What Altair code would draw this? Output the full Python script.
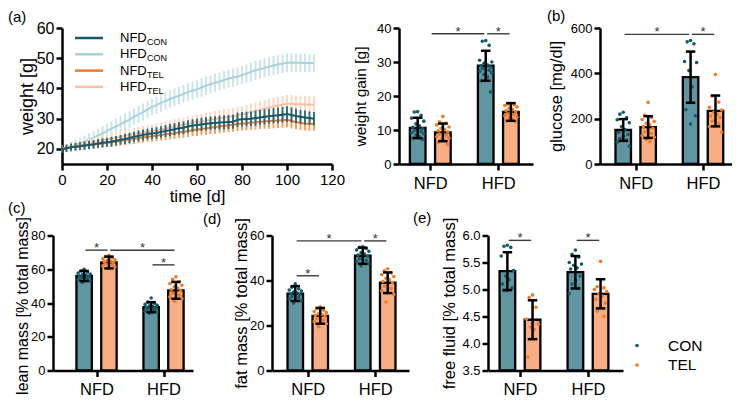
import altair as alt
import pandas as pd

FONT = "Liberation Sans"

DIETS = ["NFD", "HFD"]
GROUPS = ["CON", "TEL"]

# ---------------- (a) body weight over time ----------------
DAYS = list(range(0, 113, 2))
NFD_CON_MEAN = [19.8, 20.2, 20.5, 20.7, 20.9, 21.1, 21.3, 21.5, 21.8, 22.0,
                22.2, 22.4, 22.7, 23.0, 23.3, 23.6, 24.0, 24.3, 24.6, 24.9,
                25.1, 25.3, 25.6, 25.9, 26.2, 26.5, 26.8, 27.0, 27.4, 27.7,
                27.9, 28.1, 28.3, 28.5, 28.6, 28.7, 28.8, 28.9, 29.0, 29.6,
                29.8, 29.9, 30.0, 30.2, 30.4, 30.6, 30.8, 31.0, 31.1, 31.3,
                31.5, 31.2, 30.9, 30.6, 30.4, 30.2, 30.0]
NFD_CON_SD = [1.2, 1.2, 1.3, 1.3, 1.3, 1.4, 1.4, 1.4, 1.5, 1.5,
              1.5, 1.6, 1.6, 1.6, 1.7, 1.7, 1.7, 1.8, 1.8, 1.8,
              1.9, 1.9, 1.9, 2.0, 2.0, 2.0, 2.0, 2.1, 2.1, 2.1,
              2.1, 2.2, 2.2, 2.2, 2.2, 2.3, 2.3, 2.3, 2.3, 2.4,
              2.4, 2.4, 2.4, 2.5, 2.5, 2.5, 2.5, 2.5, 2.6, 2.6,
              2.6, 2.5, 2.4, 2.3, 2.3, 2.2, 2.2]
HFD_CON_MEAN = [20.0, 20.3, 20.8, 21.3, 21.9, 22.4, 23.1, 23.7, 24.4, 25.1,
                25.9, 26.7, 27.4, 28.2, 28.9, 29.7, 30.6, 31.4, 32.2, 33.1,
                33.9, 34.5, 35.2, 35.9, 36.5, 37.1, 37.6, 38.2, 38.8, 39.3,
                39.7, 40.3, 40.9, 41.4, 41.9, 42.3, 42.8, 43.3, 43.6, 43.9,
                44.4, 44.9, 45.5, 46.0, 46.4, 46.8, 47.2, 47.6, 47.9, 48.2,
                48.5, 48.6, 48.5, 48.5, 48.4, 48.4, 48.3]
HFD_CON_SD = [1.0, 1.3, 1.5, 1.7, 1.9, 2.0, 2.1, 2.2, 2.3, 2.4,
              2.5, 2.5, 2.6, 2.6, 2.7, 2.7, 2.7, 2.8, 2.8, 2.8,
              2.8, 2.8, 2.9, 2.9, 2.9, 2.9, 2.9, 2.9, 2.9, 2.9,
              2.9, 3.0, 3.0, 3.0, 3.0, 3.0, 3.0, 3.0, 3.0, 3.0,
              3.0, 3.0, 3.1, 3.1, 3.1, 3.1, 3.1, 3.1, 3.1, 3.1,
              3.1, 3.1, 3.0, 3.0, 3.0, 2.9, 2.9]
NFD_TEL_MEAN = [20.0, 20.3, 20.5, 20.7, 20.9, 21.1, 21.3, 21.4, 21.6, 21.8,
                22.0, 22.2, 22.4, 22.6, 22.9, 23.1, 23.3, 23.6, 23.8, 24.0,
                24.2, 24.4, 24.6, 24.8, 25.0, 25.2, 25.5, 25.7, 25.9, 26.2,
                26.4, 26.6, 26.8, 27.0, 27.2, 27.4, 27.6, 27.8, 28.0, 28.2,
                28.4, 28.5, 28.7, 28.8, 29.0, 29.1, 29.2, 29.3, 29.4, 29.5,
                29.6, 29.2, 28.9, 28.6, 28.4, 28.3, 28.2]
NFD_TEL_SD = [1.0, 1.1, 1.1, 1.2, 1.2, 1.3, 1.3, 1.3, 1.4, 1.4,
              1.4, 1.5, 1.5, 1.5, 1.6, 1.6, 1.6, 1.7, 1.7, 1.7,
              1.8, 1.8, 1.8, 1.9, 1.9, 1.9, 2.0, 2.0, 2.0, 2.0,
              2.1, 2.1, 2.1, 2.1, 2.2, 2.2, 2.2, 2.2, 2.3, 2.3,
              2.3, 2.3, 2.4, 2.4, 2.4, 2.4, 2.5, 2.5, 2.5, 2.5,
              2.5, 2.4, 2.4, 2.3, 2.3, 2.3, 2.2]
HFD_TEL_MEAN = [20.0, 20.3, 20.6, 20.9, 21.2, 21.5, 21.9, 22.2, 22.5, 22.8,
                23.1, 23.4, 23.7, 24.0, 24.3, 24.6, 24.9, 25.2, 25.4, 25.7,
                25.9, 26.2, 26.5, 26.8, 27.1, 27.4, 27.7, 28.0, 28.3, 28.6,
                28.9, 29.1, 29.4, 29.6, 29.9, 30.1, 30.4, 30.6, 30.8, 31.1,
                31.4, 31.8, 32.2, 32.5, 32.9, 33.3, 33.6, 34.0, 34.3, 34.6,
                34.9, 34.9, 34.8, 34.8, 34.7, 34.7, 34.6]
HFD_TEL_SD = [1.0, 1.2, 1.3, 1.4, 1.5, 1.6, 1.7, 1.7, 1.8, 1.8,
              1.9, 1.9, 2.0, 2.0, 2.0, 2.1, 2.1, 2.1, 2.2, 2.2,
              2.2, 2.3, 2.3, 2.3, 2.4, 2.4, 2.4, 2.4, 2.5, 2.5,
              2.5, 2.5, 2.6, 2.6, 2.6, 2.6, 2.7, 2.7, 2.7, 2.7,
              2.7, 2.8, 2.8, 2.8, 2.8, 2.8, 2.9, 2.9, 2.9, 2.9,
              2.9, 2.9, 2.9, 2.8, 2.8, 2.8, 2.8]

SERIES_DATA = {
    "NFD_CON": (NFD_CON_MEAN, NFD_CON_SD),
    "HFD_CON": (HFD_CON_MEAN, HFD_CON_SD),
    "NFD_TEL": (NFD_TEL_MEAN, NFD_TEL_SD),
    "HFD_TEL": (HFD_TEL_MEAN, HFD_TEL_SD),
}
DRAW_ORDER = ["HFD_CON", "HFD_TEL", "NFD_TEL", "NFD_CON"]
LEGEND_ORDER = ["NFD_CON", "HFD_CON", "NFD_TEL", "HFD_TEL"]
LINE_COL = {"NFD_CON": "#17596a", "HFD_CON": "#a8d3dc", "NFD_TEL": "#f27a2c", "HFD_TEL": "#f9c0a6"}
ERR_COL = {"NFD_CON": "#2f6d79", "HFD_CON": "#c9e4ea", "NFD_TEL": "#f79a58", "HFD_TEL": "#fcd6c4"}

# ---------------- bar panels (order: NFD-CON, NFD-TEL, HFD-CON, HFD-TEL) ----------------
GAIN_MEAN = [10.6, 9.3, 28.9, 15.3]
GAIN_SD = [3.0, 2.6, 4.4, 2.6]
GAIN_DOTS = [
    [15.4, 15.3, 14.3, 13.5, 12.6, 11.8, 11.2, 10.8, 10.4, 10.1, 9.8, 9.5, 9.2, 8.9, 8.5, 8.1, 7.6, 7.2],
    [14.0, 12.4, 12.0, 11.5, 10.9, 10.5, 10.2, 9.8, 9.5, 9.1, 8.8, 8.4, 8.0, 7.6, 7.3, 6.9, 6.4, 5.8],
    [36.3, 36.1, 34.9, 30.5, 30.0, 29.6, 29.2, 28.9, 28.6, 28.3, 28.0, 27.6, 27.2, 26.8, 26.3, 25.6, 24.4, 21.2],
    [17.8, 17.6, 17.4, 17.2, 16.8, 16.4, 16.0, 15.7, 15.4, 15.1, 14.8, 14.5, 14.2, 13.8, 13.5, 13.1, 12.7, 12.4],
]
GLU_MEAN = [150, 163, 383, 234]
GLU_SD = [48, 48, 113, 68]
GLU_DOTS = [
    [228, 220, 205, 195, 182, 165, 152, 140, 130, 122, 112, 104, 96, 78],
    [272, 215, 205, 196, 188, 180, 172, 165, 158, 150, 142, 135, 125, 118, 108, 98],
    [545, 539, 530, 452, 448, 412, 340, 240, 213, 176],
    [395, 300, 273, 250, 238, 228, 220, 212, 205, 198, 190, 180, 165, 140],
]
LEAN_MEAN = [56.0, 64.0, 37.5, 47.5]
LEAN_SD = [3.0, 3.5, 3.0, 5.0]
LEAN_DOTS = [
    [60.0, 59.0, 58.3, 57.8, 57.2, 56.8, 56.4, 56.0, 55.6, 55.2, 54.8, 54.3, 53.8, 53.0, 52.2],
    [68.3, 67.5, 66.8, 66.2, 65.7, 65.2, 64.8, 64.4, 64.0, 63.6, 63.1, 62.6, 62.0, 61.3, 60.5],
    [43.0, 40.5, 39.8, 39.2, 38.7, 38.3, 37.9, 37.5, 37.1, 36.7, 36.3, 35.8, 35.3, 34.7, 34.0],
    [55.5, 54.0, 52.6, 51.5, 50.5, 49.6, 48.8, 48.0, 47.2, 46.4, 45.6, 44.6, 43.6, 42.5, 41.0],
]
FAT_MEAN = [34.2, 24.3, 51.0, 39.0]
FAT_SD = [3.3, 3.5, 3.6, 4.6]
FAT_DOTS = [
    [38.5, 37.0, 36.3, 35.8, 35.3, 34.9, 34.5, 34.1, 33.7, 33.3, 32.9, 32.4, 31.8, 31.0, 30.0],
    [28.3, 27.5, 26.8, 26.2, 25.7, 25.2, 24.8, 24.4, 24.0, 23.5, 23.0, 22.4, 21.7, 20.8, 19.5],
    [55.0, 54.8, 54.2, 53.6, 53.0, 52.4, 51.8, 51.3, 50.8, 50.2, 49.6, 49.0, 48.3, 47.5, 46.6],
    [45.2, 44.3, 43.4, 42.6, 41.8, 41.0, 40.3, 39.6, 38.9, 38.2, 37.4, 36.5, 35.4, 33.8, 30.5],
]
FLUID_MEAN = [5.34, 4.44, 5.32, 4.92]
FLUID_SD = [0.35, 0.36, 0.30, 0.27]
FLUID_DOTS = [
    [5.82, 5.80, 5.78, 5.62, 5.35, 5.25, 5.18, 5.10, 5.03, 4.98, 4.98],
    [4.90, 4.85, 4.67, 4.45, 4.36, 4.30, 4.26, 3.75],
    [5.73, 5.65, 5.60, 5.50, 5.47, 5.45, 5.40, 5.38, 5.25, 5.16, 5.10, 5.02, 4.92],
    [5.52, 5.05, 5.03, 5.00, 4.96, 4.92, 4.88, 4.82, 4.75, 4.68, 4.60, 4.50],
]
# significance lines: (from, to, height)
GAIN_SIG = [("NFD", "HFD-CON", 38.3), ("HFD-CON", "HFD-TEL", 38.3)]
GLU_SIG = [("NFD-CON", "HFD-CON", 572), ("HFD-CON", "HFD-TEL", 572)]
LEAN_SIG = [("NFD-CON", "NFD-TEL", 71.3), ("NFD-TEL", "HFD-TEL", 71.3), ("HFD-CON", "HFD-TEL", 62.6)]
FAT_SIG = [("NFD-CON", "HFD-CON", 57.6), ("HFD-CON", "HFD-TEL", 57.6), ("NFD-CON", "NFD-TEL", 42.1)]
FLUID_SIG = [("NFD-CON", "NFD-TEL", 5.91), ("HFD-CON", "HFD-TEL", 5.91)]

BAR_FILL = {"CON": "#5f96a2", "TEL": "#f9ad83"}
DOT_COL = {"CON": "#135b6b", "TEL": "#f57a22"}

# layout helpers
POS = {"NFD": 0.0, "HFD": 1.0, "NFD-CON": -0.185, "NFD-TEL": 0.185, "HFD-CON": 0.815, "HFD-TEL": 1.185}
HALF = 0.115
CAP = 0.07
TRIM = 0.02
JIT = [0.0, -0.05, 0.05, -0.09, 0.09, -0.025, 0.025, -0.07, 0.07]

AX = dict(domainWidth=2.5, tickWidth=2.5, tickSize=6, domainColor="black", tickColor="black",
          labelColor="black", titleColor="black", titleFontWeight="normal", grid=False, labelFlush=False)


def text_layer(txt, x, y, size, font=FONT, align="left", baseline="middle", dy=0):
    return alt.Chart(pd.DataFrame({"t": [txt]})).mark_text(
        font=font, fontSize=size, align=align, baseline=baseline, color="black", dy=dy
    ).encode(x=alt.value(x), y=alt.value(y), text="t:N")


# ---------- panel (a) ----------
rows = []
for s in DRAW_ORDER:
    m, sd = SERIES_DATA[s]
    for d, mm, ss in zip(DAYS, m, sd):
        rows.append({"series": s, "day": d, "mean": mm, "lo": mm - ss, "hi": mm + ss})
dfa = pd.DataFrame(rows)

xa_scale = alt.Scale(domain=[0, 120], range=[9, 279], nice=False)
xa_axis = alt.Axis(values=[0, 20, 40, 60, 80, 100, 120], title="time [d]", labelFont=FONT, labelFontSize=15,
                   titleFont=FONT, titleFontSize=17, labelPadding=2, titleY=32, titleBaseline="middle", **AX)
ya_scale = alt.Scale(domain=[15, 60], nice=False, zero=False)
ya_axis = alt.Axis(values=[20, 30, 40, 50, 60], title="weight [g]", labelFont=FONT, labelFontSize=16,
                   titleFont=FONT, titleFontSize=18, offset=-9, labelPadding=2, titleX=-35,
                   titleBaseline="middle", **AX)

a_layers = []
for s in DRAW_ORDER:
    base = alt.Chart(dfa).transform_filter(alt.datum.series == s)
    a_layers.append(base.mark_rule(color=ERR_COL[s], strokeWidth=1.9).encode(
        x=alt.X("day:Q", scale=xa_scale, axis=xa_axis),
        y=alt.Y("lo:Q", scale=ya_scale, axis=ya_axis), y2="hi:Q"))
    a_layers.append(base.mark_line(color=LINE_COL[s], strokeWidth=2).encode(
        x=alt.X("day:Q", scale=xa_scale, axis=xa_axis),
        y=alt.Y("mean:Q", scale=ya_scale, axis=ya_axis)))

for i, s in enumerate(LEGEND_ORDER):
    yy = 10 + 16.3 * i
    main, sub = s.split("_")
    a_layers.append(alt.Chart(pd.DataFrame({"k": [s]})).mark_rule(color=LINE_COL[s], strokeWidth=2.5).encode(
        x=alt.value(22), x2=alt.value(50), y=alt.value(yy)))
    a_layers.append(text_layer(main, 67, yy, 13))
    a_layers.append(text_layer(sub, 94, yy + 4, 9))
a_layers.append(text_layer("(a)", -45, -18, 15, baseline="top"))
panel_a = alt.layer(*a_layers).properties(width=279, height=136)


# ---------- bar panels ----------
def bar_panel(mean, sd, dots, sig, ytitle, ydom, yvals, yfmt, width, height, xdom,
              title_x, title_size, label, lx, ly, title_y=None, legend=False):
    keys = [f"{d}-{g}" for d in DIETS for g in GROUPS]
    stats = pd.DataFrame({"key": keys, "group": [k.split("-")[1] for k in keys], "mean": mean, "sd": sd})
    stats["xc"] = [POS[k] for k in keys]
    stats["x1"] = stats["xc"] - HALF
    stats["x2"] = stats["xc"] + HALF
    stats["lo"] = stats["mean"] - stats["sd"]
    stats["hi"] = stats["mean"] + stats["sd"]
    stats["cl"] = stats["xc"] - CAP
    stats["cr"] = stats["xc"] + CAP
    drows = []
    for k, vals in zip(keys, dots):
        for i, v in enumerate(vals):
            drows.append({"group": k.split("-")[1], "v": v, "xj": POS[k] + JIT[i % len(JIT)]})
    dd = pd.DataFrame(drows)
    sg = pd.DataFrame([{"x1": POS[a] + TRIM, "x2": POS[b] - TRIM, "xm": (POS[a] + POS[b]) / 2, "y": h, "s": "*"}
                       for a, b, h in sig])

    xs = alt.Scale(domain=xdom, nice=False, zero=False)
    xax = alt.Axis(values=[0, 1], labelExpr="datum.value == 0 ? 'NFD' : 'HFD'", title=None,
                   labelFont=FONT, labelFontSize=16.5, labelPadding=5, **AX)
    ys = alt.Scale(domain=ydom, nice=False, zero=False)
    ykw = dict(values=yvals, format=yfmt, title=ytitle, titleFont=FONT, titleFontSize=title_size,
               titleX=title_x, titleBaseline="middle", labelFont=FONT, labelFontSize=13,
               labelPadding=2, **AX)
    if title_y is not None:
        ykw["titleY"] = title_y
    yax = alt.Axis(**ykw)

    def X(f):
        return alt.X(f, scale=xs, axis=xax)

    def Y(f):
        return alt.Y(f, scale=ys, axis=yax)

    gcol = alt.Color("group:N", scale=alt.Scale(domain=GROUPS, range=[DOT_COL[g] for g in GROUPS]), legend=None)
    gfill = alt.Fill("group:N", scale=alt.Scale(domain=GROUPS, range=[BAR_FILL[g] for g in GROUPS]), legend=None)

    layers = [
        alt.Chart(stats).mark_bar(stroke="black", strokeWidth=2.3).encode(
            x=X("x1:Q"), x2="x2:Q", y=Y("mean:Q"), y2=alt.datum(ydom[0]), fill=gfill),
        alt.Chart(dd).mark_circle(size=13, opacity=1).encode(x=X("xj:Q"), y=Y("v:Q"), color=gcol),
        alt.Chart(stats).mark_rule(color="black", strokeWidth=2.5).encode(x=X("xc:Q"), y=Y("lo:Q"), y2="hi:Q"),
        alt.Chart(stats).mark_rule(color="black", strokeWidth=2.5).encode(x=X("cl:Q"), x2="cr:Q", y=Y("hi:Q")),
        alt.Chart(stats).mark_rule(color="black", strokeWidth=2.5).encode(x=X("cl:Q"), x2="cr:Q", y=Y("lo:Q")),
        alt.Chart(sg).mark_rule(color="#3c3c3c", strokeWidth=1.4).encode(x=X("x1:Q"), x2="x2:Q", y=Y("y:Q")),
        alt.Chart(sg).mark_text(font=FONT, fontSize=13, color="#333333", baseline="alphabetic", dy=2).encode(
            x=X("xm:Q"), y=Y("y:Q"), text="s:N"),
        text_layer(label, lx, ly, 15),
    ]
    if legend:
        for i, g in enumerate(GROUPS):
            yy = 110 + 19.6 * i
            layers.append(alt.Chart(pd.DataFrame({"g": [g]})).mark_circle(size=13, opacity=1, color=DOT_COL[g]).encode(
                x=alt.value(149), y=alt.value(yy)))
            layers.append(text_layer(g, 180, yy, 15.5))
    return alt.layer(*layers).properties(width=width, height=height)


panel_gain = bar_panel(GAIN_MEAN, GAIN_SD, GAIN_DOTS, GAIN_SIG, "weight gain [g]", [0, 40], [0, 10, 20, 30, 40],
                       "d", 134, 136, [-0.46, 1.51], -38.5, 15.5, "", 0, 0)
panel_glu = bar_panel(GLU_MEAN, GLU_SD, GLU_DOTS, GLU_SIG, "glucose [mg/dl]", [0, 600], [0, 200, 400, 600],
                      "d", 132, 136, [-0.53, 1.43], -44, 16.5, "(b)", -53, -12.5)
panel_lean = bar_panel(LEAN_MEAN, LEAN_SD, LEAN_DOTS, LEAN_SIG, "lean mass [% total mass]", [0, 80],
                       [0, 20, 40, 60, 80], "d", 140, 135, [-0.65, 1.44], -31, 16, "(c)", -45, -28,
                       title_y=70)
panel_fat = bar_panel(FAT_MEAN, FAT_SD, FAT_DOTS, FAT_SIG, "fat mass [% total mass]", [0, 60],
                      [0, 20, 40, 60], "d", 137, 135, [-0.53, 1.50], -31, 16.5, "(d)", -69, -16.5)
panel_fluid = bar_panel(FLUID_MEAN, FLUID_SD, FLUID_DOTS, FLUID_SIG, "free fluid [% total mass]", [3.5, 6.0],
                        [3.5, 4.0, 4.5, 5.0, 5.5, 6.0], ".1f", 135, 135, [-0.47, 1.515], -38.5, 16.5,
                        "(e)", -75, -18, legend=True)

top = alt.hconcat(panel_a, panel_gain, panel_glu, spacing=67, bounds="flush")
bottom = alt.hconcat(panel_lean, panel_fat, panel_fluid, spacing=79, bounds="flush")
chart = alt.vconcat(top, bottom, spacing=-3.5).properties(padding=0, background="white").configure_view(stroke=None)

chart.save("out.html", embed_options={"renderer": "svg", "actions": False})
